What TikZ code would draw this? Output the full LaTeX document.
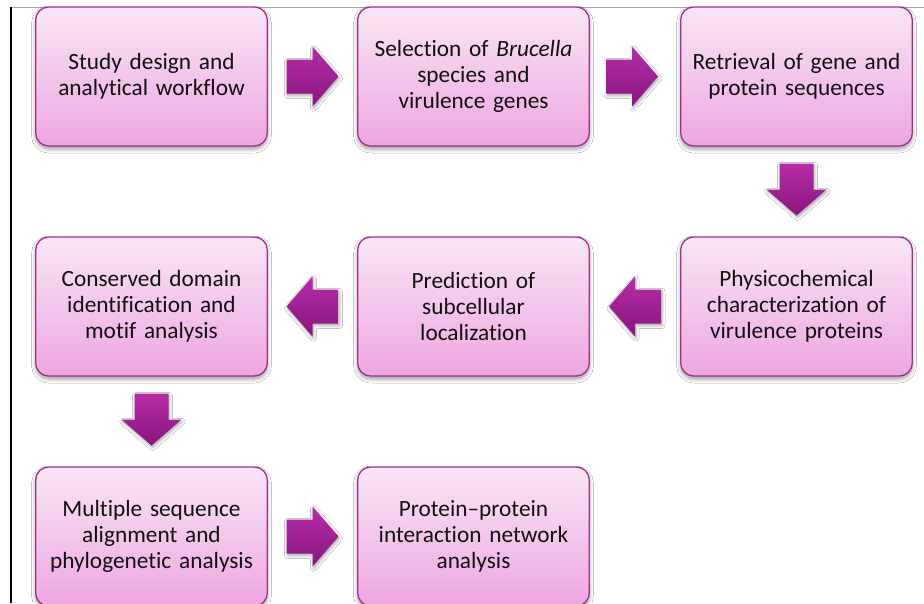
\documentclass[tikz,border=0pt]{standalone}
\usepackage{fontspec}
\setmainfont{Carlito}[Ligatures={NoCommon}]
\usetikzlibrary{calc,shadows.blur}
\definecolor{boxedge}{HTML}{A0308E}
\definecolor{boxtop}{HTML}{F9E6F5}
\definecolor{boxbot}{HTML}{EDA6E0}
\definecolor{arrtop}{HTML}{B52DA6}
\definecolor{arrbot}{HTML}{8A1580}
\definecolor{txt}{HTML}{111111}
\tikzset{
  stepbox/.style={draw=boxedge, line width=1.3pt, rounded corners=13pt,
    top color=boxtop, bottom color=boxbot,
    minimum width=231pt, minimum height=139pt, text width=225pt,
    align=center, font=\fontsize{23.3}{26}\selectfont, text=txt,
    blur shadow={shadow xshift=0pt, shadow yshift=-3pt, shadow blur radius=4pt, shadow opacity=40}},
  blockarrow/.pic={
    \path[top color=arrtop, bottom color=arrbot,
      blur shadow={shadow xshift=1pt, shadow yshift=-2pt, shadow blur radius=3pt, shadow opacity=35}]
      (-26,-17) -- (0,-17) -- (0,-30) -- (26,0) -- (0,30) -- (0,17) -- (-26,17) -- cycle;
  }
}
\begin{document}
\begin{tikzpicture}[x=1pt,y=-1pt]
\useasboundingbox (0,0) rectangle (924,603);
\clip (0,0) rectangle (924,603);
\fill[white] (0,0) rectangle (924,603);
\draw[gray!70, line width=1pt] (11,7) -- (924,7);
\draw[black, line width=1.1pt] (11,7) -- (11,603);

\node[stepbox] (b1) at (151.5,76.5) {Study design and\\analytical workflow};
\node[stepbox] (b2) at (473.5,76.5) {Selection of \textit{Brucella}\\species and\\virulence genes};
\node[stepbox] (b3) at (796.5,76.5) {Retrieval of gene and\\protein sequences};
\node[stepbox] (b4) at (796.5,306.5) {Physicochemical\\characterization of\\virulence proteins};
\node[stepbox] (b5) at (473.5,306.5) {Prediction of\\subcellular\\localization};
\node[stepbox] (b6) at (151.5,306.5) {Conserved domain\\identification and\\motif analysis};
\node[stepbox] (b7) at (151.5,536.5) {Multiple sequence\\alignment and\\phylogenetic analysis};
\node[stepbox] (b8) at (473.5,536.5) {Protein--protein\\interaction network\\analysis};

\pic at ($(b1.east)!0.5!(b2.west)$) {blockarrow};
\pic at ($(b2.east)!0.5!(b3.west)+(-3,0)$) {blockarrow};
\pic[rotate=-90] at ($(b3.south)!0.5!(b4.north)+(0,-2)$) {blockarrow};
\pic[rotate=180] at ($(b4.west)!0.5!(b5.east)$) {blockarrow};
\pic[rotate=180] at ($(b5.west)!0.5!(b6.east)$) {blockarrow};
\pic[rotate=-90] at ($(b6.south)!0.5!(b7.north)+(0,-2)$) {blockarrow};
\pic at ($(b7.east)!0.5!(b8.west)$) {blockarrow};
\end{tikzpicture}
\end{document}
